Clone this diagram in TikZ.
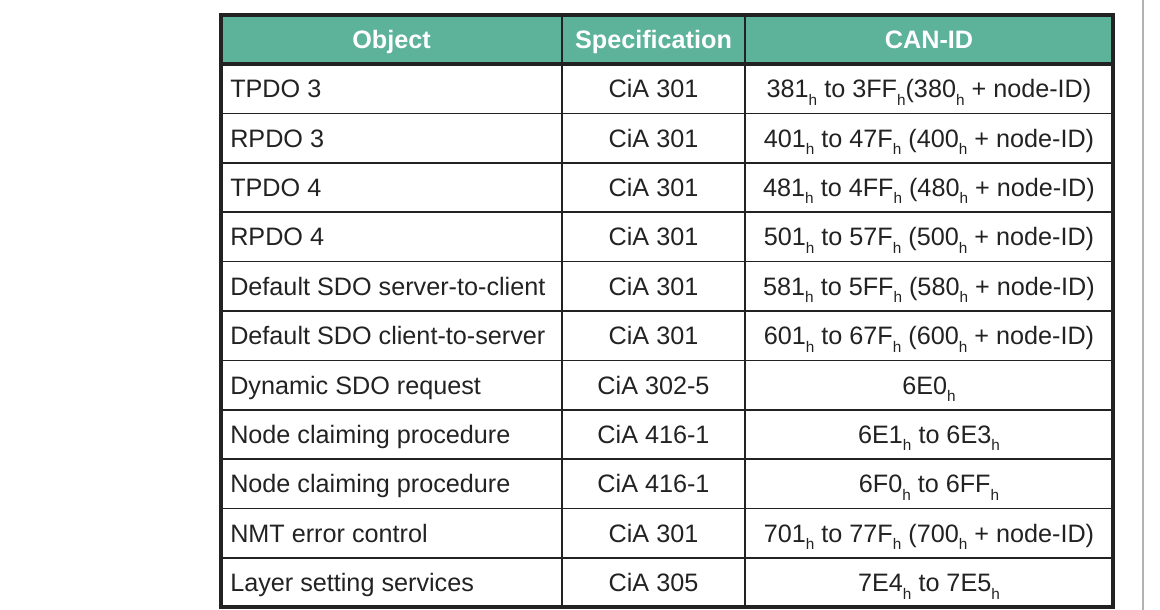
\documentclass[tikz,border=0pt]{standalone}
\usepackage{fontspec}
\setmainfont{Liberation Sans}
\usepackage{xcolor}
\definecolor{headgreen}{HTML}{5DB39A}
\definecolor{edgegray}{HTML}{222222}
\tikzset{
  cell/.style={inner sep=0pt, anchor=base, font=\fontsize{18.9}{22}\selectfont, text=edgegray},
  headcell/.style={cell, text=white, font=\fontsize{18.9}{22}\selectfont\bfseries},
  rule/.style={edgegray, line width=1.2pt},
  frame/.style={edgegray, line width=2.4pt}
}
\newcommand{\hx}{\raisebox{-0.55ex}{\fontsize{11.5}{12}\selectfont h}}
\begin{document}
\begin{tikzpicture}[x=0.75pt, y=-0.75pt]
  \useasboundingbox (0,0) rectangle (1160,610);
  % header
  \fill [headgreen] (221,15) rectangle (1113,64);
  \node [headcell] (hobj) at (391.5,49) {Object};
  \node [headcell] (hspec) at (653.5,49) {Specification};
  \node [headcell] (hid) at (929,49) {CAN-ID};
  % rows
  \foreach \obj/\spec/\canid [count=\i] in {
    TPDO 3/CiA 301/{381\hx{} to 3FF\hx(380\hx{} + node-ID)},
    RPDO 3/CiA 301/{401\hx{} to 47F\hx{} (400\hx{} + node-ID)},
    TPDO 4/CiA 301/{481\hx{} to 4FF\hx{} (480\hx{} + node-ID)},
    RPDO 4/CiA 301/{501\hx{} to 57F\hx{} (500\hx{} + node-ID)},
    Default SDO server-to-client/CiA 301/{581\hx{} to 5FF\hx{} (580\hx{} + node-ID)},
    Default SDO client-to-server/CiA 301/{601\hx{} to 67F\hx{} (600\hx{} + node-ID)},
    Dynamic SDO request/CiA 302-5/{6E0\hx},
    Node claiming procedure/CiA 416-1/{6E1\hx{} to 6E3\hx},
    Node claiming procedure/CiA 416-1/{6F0\hx{} to 6FF\hx},
    NMT error control/CiA 301/{701\hx{} to 77F\hx{} (700\hx{} + node-ID)},
    Layer setting services/CiA 305/{7E4\hx{} to 7E5\hx}} {
    \pgfmathsetmacro{\ybase}{64+49.4*(\i-0.5)+9}
    \node [cell, anchor=base west] (obj\i) at (230,\ybase) {\obj};
    \node [cell] (spec\i) at (653.5,\ybase) {\spec};
    \node [cell] (id\i) at (929,\ybase) {\canid};
    \ifnum\i>1
      \draw [rule] (221,{64+49.4*(\i-1)}) -- (1113,{64+49.4*(\i-1)});
    \fi
  }
  % grid
  \draw [frame] (221,64) -- (1113,64);
  \draw [rule] (562,15) -- (562,607);
  \draw [rule] (745,15) -- (745,607);
  \draw [frame] (221,15) rectangle (1113,607);
  \draw [gray!60, line width=1.5pt] (1143,0) -- (1143,610);
\end{tikzpicture}
\end{document}
